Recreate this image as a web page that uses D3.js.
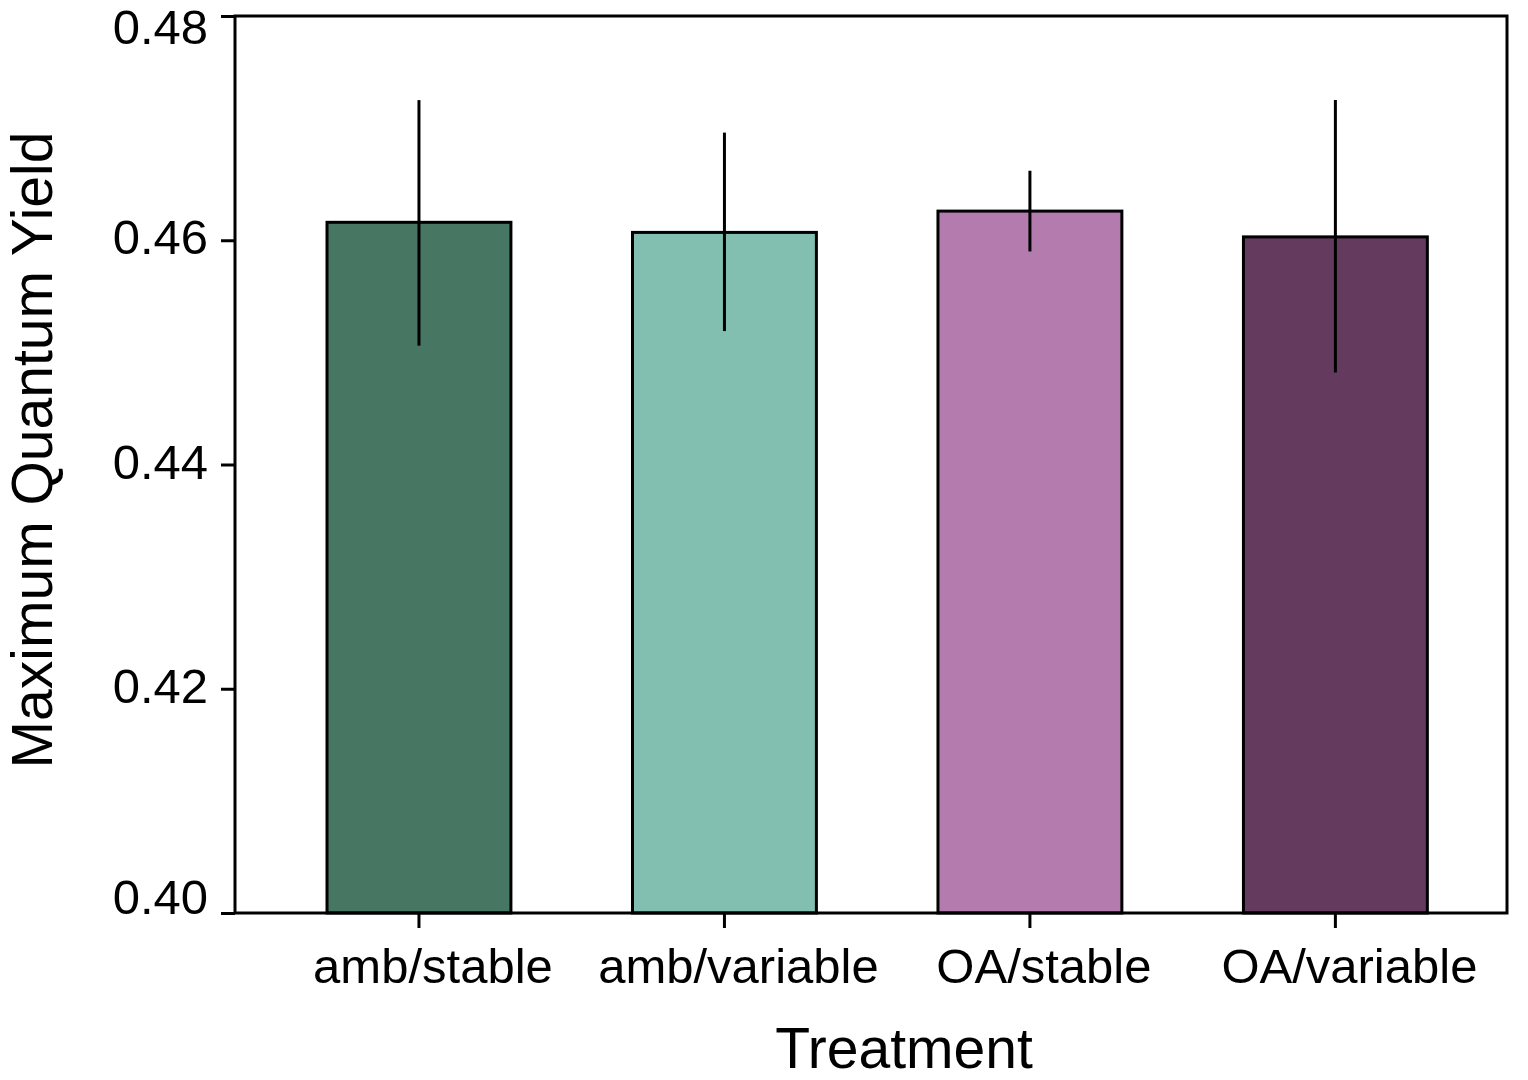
<!DOCTYPE html>
<html>
<head>
<meta charset="utf-8">
<script src="https://cdn.jsdelivr.net/npm/d3@7"></script>
<style>
  html, body { margin: 0; padding: 0; background: #ffffff; }
  svg { display: block; }
</style>
</head>
<body>
<div id="chart"></div>
<script>
// Chart data
var treatments = ['amb/stable', 'amb/variable', 'OA/stable', 'OA/variable'];
var yieldMean = [0.4616, 0.4607, 0.4626, 0.4603];
var errUpper = [0.4725, 0.4696, 0.4662, 0.4725];
var errLower = [0.4506, 0.4519, 0.4590, 0.4482];
var yTicks = [0.40, 0.42, 0.44, 0.46, 0.48];
var barColors = ['#477662', '#82bfb0', '#b37bae', '#643a5f'];

var rows = treatments.map((t, i) => ({
    name: t, value: yieldMean[i], hi: errUpper[i], lo: errLower[i], color: barColors[i]
}));

var fontFamily = 'Liberation Sans, Arial, Helvetica, sans-serif';

var svg = d3.select('#chart').append('svg')
    .attr('width', 1528)
    .attr('height', 1080)
    .attr('font-family', fontFamily);

var plotLeft = 235, plotRight = 1507, plotTop = 16, plotBottom = 913;

var x = d3.scaleBand()
    .domain(treatments)
    .range([plotLeft, plotRight])
    .paddingInner(0.398)
    .paddingOuter(0.281)
    .align(0.536);

var y = d3.scaleLinear()
    .domain([0.40, 0.48])
    .range([plotBottom, plotTop]);

var barW = x.bandwidth();

// bars
svg.selectAll('.bar')
    .data(rows)
    .enter()
    .append('rect')
    .attr('class', 'bar')
    .attr('x', d => x(d.name))
    .attr('y', d => y(d.value))
    .attr('width', barW)
    .attr('height', d => y(0.40) - y(d.value))
    .attr('fill', d => d.color)
    .attr('stroke', '#000')
    .attr('stroke-width', 3);

// error bars
svg.selectAll('.err')
    .data(rows)
    .enter()
    .append('line')
    .attr('class', 'err')
    .attr('x1', d => x(d.name) + barW / 2)
    .attr('x2', d => x(d.name) + barW / 2)
    .attr('y1', d => y(d.lo))
    .attr('y2', d => y(d.hi))
    .attr('stroke', '#000')
    .attr('stroke-width', 3);

// frame
svg.append('rect')
    .attr('x', plotLeft)
    .attr('y', plotTop)
    .attr('width', plotRight - plotLeft)
    .attr('height', plotBottom - plotTop)
    .attr('fill', 'none')
    .attr('stroke', '#000')
    .attr('stroke-width', 3);

// y axis
var yAxis = svg.append('g')
    .attr('transform', 'translate(' + plotLeft + ',0)')
    .call(d3.axisLeft(y).tickValues(yTicks).tickSize(14).tickFormat(d3.format('.2f')));

yAxis.select('.domain').remove();
yAxis.selectAll('.tick line').attr('stroke', '#000').attr('stroke-width', 3);
yAxis.selectAll('.tick text')
    .attr('x', -27)
    .attr('dy', '0.36em')
    .attr('y', d => {
        // labels at the ends sit inside the frame
        var c = y(d) - 4;
        return Math.max(25.5, Math.min(896, c)) - y(d);
    })
    .style('font-family', fontFamily)
    .style('font-size', '49px')
    .attr('fill', '#000');

// x axis
var xAxis = svg.append('g')
    .attr('transform', 'translate(0,' + plotBottom + ')')
    .call(d3.axisBottom(x).tickSize(15).tickSizeOuter(0));

xAxis.select('.domain').remove();
xAxis.selectAll('.tick line').attr('stroke', '#000').attr('stroke-width', 3);
xAxis.selectAll('.tick text')
    .attr('x', 14)
    .attr('y', 70)
    .attr('dy', null)
    .style('font-family', fontFamily)
    .style('font-size', '49px')
    .attr('fill', '#000');

// axis titles
svg.append('text')
    .attr('x', 904)
    .attr('y', 1068)
    .attr('text-anchor', 'middle')
    .style('font-size', '57px')
    .style('fill', '#000')
    .text('Treatment');

svg.append('text')
    .attr('transform', 'translate(52, 450) rotate(-90)')
    .attr('text-anchor', 'middle')
    .style('font-size', '57px')
    .style('fill', '#000')
    .text('Maximum Quantum Yield');
</script>
</body>
</html>
